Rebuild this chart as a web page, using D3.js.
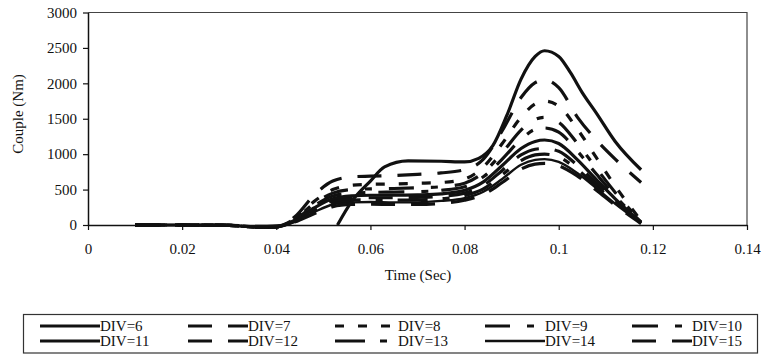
<!DOCTYPE html>
<html>
<head>
<meta charset="utf-8">
<script src="https://cdn.jsdelivr.net/npm/d3@7"></script>
<style>
  body { margin: 0; background: #fff; }
  svg text { font-family: "Liberation Serif", "Times New Roman", serif; fill: #111; }
</style>
</head>
<body>
<div id="chart"></div>
<script>
// time samples shared by DIV=7..15 (sec)
const times = [0.010, 0.020, 0.030, 0.036, 0.040, 0.044, 0.048, 0.052, 0.056, 0.060, 0.065, 0.070,
               0.075, 0.080, 0.084, 0.088, 0.092, 0.095, 0.097, 0.100, 0.104, 0.108, 0.112, 0.1175];
// DIV=6 starts later
const times6 = [0.053, 0.056, 0.060, 0.063, 0.068, 0.075, 0.080, 0.083, 0.086,
                0.089, 0.092, 0.095, 0.097, 0.100, 0.1025, 0.105, 0.108, 0.112, 0.1175];
const div6  = [0, 330, 620, 820, 905, 900, 890, 940, 1120, 1550, 2060, 2380, 2460, 2380, 2150, 1870, 1580, 1180, 780];
const div7  = [0, 0, -5, -20, -15, 120, 420, 620, 680, 690, 700, 715, 735, 780, 930, 1330, 1800, 2010, 2050, 1940, 1520, 1200, 930, 600];
const div8  = [0, 0, -5, -25, -20, 100, 330, 500, 560, 575, 580, 590, 600, 650, 820, 1150, 1520, 1710, 1750, 1680, 1350, 950, 550, 60];
const div9  = [0, 0, -5, -25, -20, 90, 300, 450, 500, 510, 515, 525, 540, 590, 740, 1020, 1340, 1490, 1520, 1450, 1150, 800, 460, 50];
const div10 = [0, 0, -5, -30, -25, 80, 270, 410, 450, 460, 465, 470, 490, 540, 680, 930, 1210, 1350, 1370, 1310, 1040, 720, 410, 40];
const div11 = [0, 0, -5, -30, -25, 70, 240, 370, 410, 420, 420, 425, 440, 490, 610, 840, 1080, 1180, 1200, 1150, 920, 640, 370, 40];
const div12 = [0, 0, -5, -30, -25, 60, 220, 340, 380, 385, 385, 390, 405, 450, 560, 770, 990, 1070, 1080, 1040, 840, 590, 340, 30];
const div13 = [0, 0, -5, -30, -25, 55, 200, 310, 350, 355, 350, 355, 370, 415, 510, 710, 910, 990, 1000, 960, 780, 550, 320, 30];
const div14 = [0, 0, -5, -35, -30, 50, 180, 290, 320, 325, 320, 320, 340, 380, 470, 650, 850, 920, 930, 890, 730, 520, 300, 30];
const div15 = [0, 0, -5, -35, -30, 45, 160, 260, 290, 295, 290, 290, 305, 350, 430, 600, 790, 860, 870, 835, 690, 490, 280, 20];

const names = ["DIV=6", "DIV=7", "DIV=8", "DIV=9", "DIV=10", "DIV=11", "DIV=12", "DIV=13", "DIV=14", "DIV=15"];
const xTicks = [0, 0.02, 0.04, 0.06, 0.08, 0.1, 0.12, 0.14];
const yTicks = [0, 500, 1000, 1500, 2000, 2500, 3000];

const series = [
  { name: names[0], t: times6, v: div6,  dash: null,              w: 3.2 },
  { name: names[1], t: times,  v: div7,  dash: "24,16",           w: 3.2 },
  { name: names[2], t: times,  v: div8,  dash: "9,14",            w: 3.2 },
  { name: names[3], t: times,  v: div9,  dash: "25,17,7,17",      w: 3.2 },
  { name: names[4], t: times,  v: div10, dash: "26,17,7,13",      w: 3.2 },
  { name: names[5], t: times,  v: div11, dash: null,              w: 3.2 },
  { name: names[6], t: times,  v: div12, dash: "24,16",           w: 3.2 },
  { name: names[7], t: times,  v: div13, dash: "30,15,7,15",      w: 3.2 },
  { name: names[8], t: times,  v: div14, dash: null,              w: 2.4 },
  { name: names[9], t: times,  v: div15, dash: "24,16",           w: 3.2 }
];

const width = 765, height = 356;
const svg = d3.select("#chart").append("svg")
  .attr("width", width)
  .attr("height", height)
  .attr("font-family", "Liberation Serif");

const x = d3.scaleLinear().domain([0, 0.14]).range([88, 747]);
const y = d3.scaleLinear().domain([0, 3000]).range([225, 12.5]);

// frame (top and right)
svg.append("path")
  .attr("d", `M${x(0)},${y(3000)}H${x(0.14)}V${y(0)}`)
  .attr("fill", "none")
  .attr("stroke", "#444")
  .attr("stroke-width", 1.2);

const line = d3.line()
  .x(d => x(d[0]))
  .y(d => y(d[1]))
  .curve(d3.curveMonotoneX);

svg.append("g").selectAll("path")
  .data(series.slice().reverse())
  .join("path")
  .attr("d", s => line(s.t.map((t, i) => [t, s.v[i]])))
  .attr("fill", "none")
  .attr("stroke", "#111")
  .attr("stroke-width", s => s.w)
  .attr("stroke-dasharray", s => s.dash);

// axes
const xAxis = svg.append("g")
  .attr("transform", `translate(0,${y(0)})`)
  .call(d3.axisBottom(x).tickValues(xTicks).tickFormat(d3.format("")).tickSize(5).tickSizeOuter(0).tickPadding(13));
const yAxis = svg.append("g")
  .attr("transform", `translate(${x(0)},0)`)
  .call(d3.axisLeft(y).tickValues(yTicks).tickFormat(d3.format("d")).tickSize(5).tickSizeOuter(0).tickPadding(6));

[xAxis, yAxis].forEach(g => {
  g.attr("font-family", null).attr("font-size", null);
  g.select(".domain").attr("stroke", "#111").attr("stroke-width", 1.5);
  g.selectAll(".tick line").attr("stroke", "#111").attr("stroke-width", 1.2);
  g.selectAll(".tick text").attr("font-size", 15).attr("fill", "#111");
});

// axis titles
svg.append("text")
  .attr("x", 418).attr("y", 280)
  .attr("text-anchor", "middle")
  .attr("font-size", 15)
  .text("Time (Sec)");
svg.append("text")
  .attr("transform", "translate(23,114) rotate(-90)")
  .attr("text-anchor", "middle")
  .attr("font-size", 15)
  .text("Couple (Nm)");

// legend
const legend = svg.append("g");
legend.append("rect")
  .attr("x", 23.5).attr("y", 314.5)
  .attr("width", 734).attr("height", 38.5)
  .attr("fill", "#fff")
  .attr("stroke", "#333")
  .attr("stroke-width", 1.2);

const colX = [40, 188, 335, 485, 632];
const rowY = [326, 341];
const item = legend.selectAll("g.item")
  .data(series)
  .join("g")
  .attr("class", "item")
  .attr("transform", (s, i) => `translate(${colX[i % 5]},${rowY[Math.floor(i / 5)]})`);
item.append("line")
  .attr("x1", 0).attr("x2", 60)
  .attr("stroke", "#111")
  .attr("stroke-width", s => s.w)
  .attr("stroke-dasharray", s => s.dash);
item.append("text")
  .attr("x", (s, i) => i % 5 === 2 ? 63 : 60)
  .attr("dy", "0.33em")
  .attr("font-size", 15)
  .text(s => s.name);
</script>
</body>
</html>
